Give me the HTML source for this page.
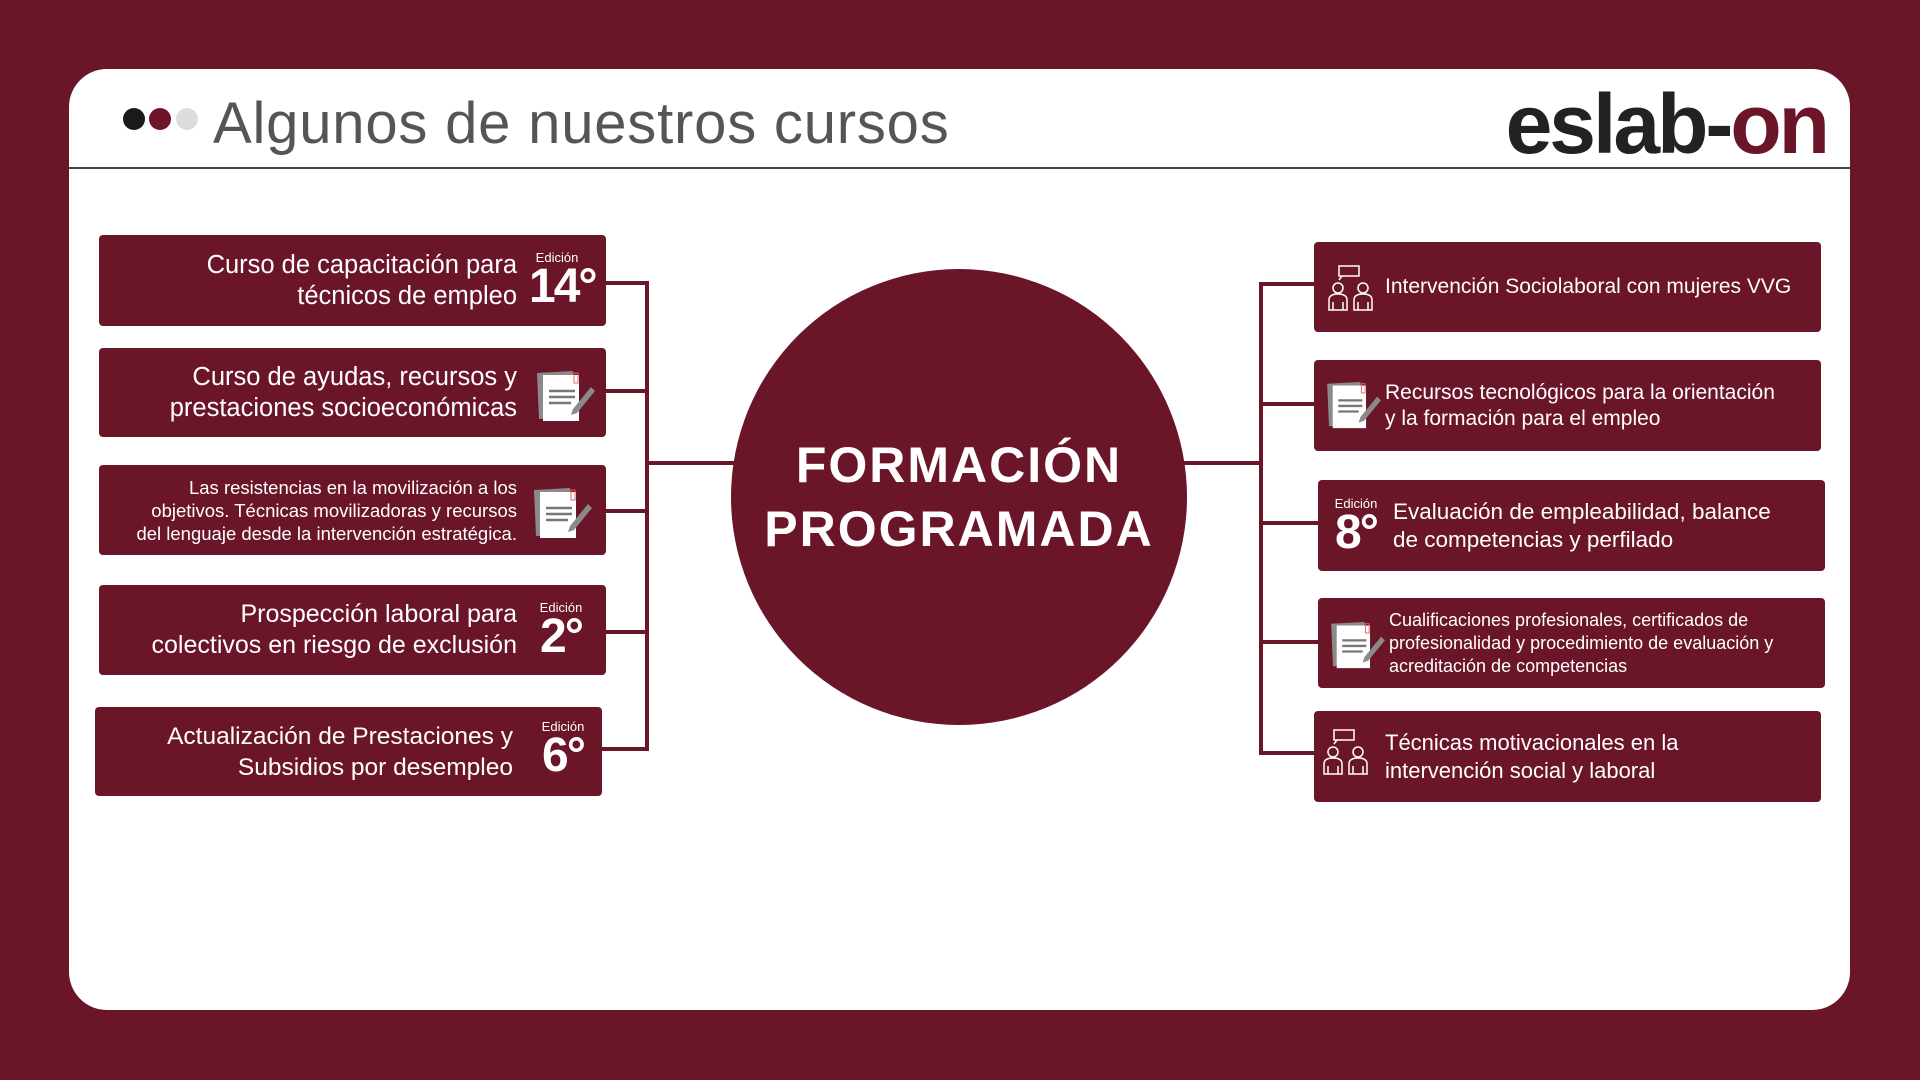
<!DOCTYPE html>
<html><head><meta charset="utf-8"><style>
*{margin:0;padding:0;box-sizing:border-box}
body{width:1920px;height:1080px;background:#6b1529;position:relative;overflow:hidden;font-family:"Liberation Sans",sans-serif}
.card{position:absolute;left:69px;top:69px;width:1781px;height:941px;background:#fff;border-radius:38px}
.hl{position:absolute;left:69px;top:167px;width:1781px;height:2px;background:#444}
.title{position:absolute;left:213px;top:90px;font-size:58px;color:#555;letter-spacing:0.8px}
.dot{position:absolute;width:22px;height:22px;border-radius:50%;top:108px}
.logo{position:absolute;right:93px;top:82px;font-size:84px;line-height:1;font-weight:bold;letter-spacing:-3px;color:#222;white-space:nowrap}
.logo span{color:#6b1529}
.box{position:absolute;background:#6b1529;border-radius:4px;color:#fff;display:flex;align-items:center}
.l{justify-content:flex-end;text-align:right}
.line{position:absolute;background:#6b1529}
.ed{position:absolute;color:#fff;text-align:center}
.ed small{display:block;font-size:13px}
.ed b{display:block;font-size:48px;line-height:44px;letter-spacing:-2px}
.circle{position:absolute;left:731px;top:269px;width:456px;height:456px;border-radius:50%;background:#6b1529;color:#fff;display:flex;align-items:center;justify-content:center;text-align:center;font-weight:bold;font-size:50px;letter-spacing:2px;line-height:64px}
svg{position:absolute}
</style></head><body>
<div class="card"></div>
<div class="hl"></div>
<div class="dot" style="left:123px;background:#1a1a1a"></div>
<div class="dot" style="left:149px;background:#6b1529"></div>
<div class="dot" style="left:176px;background:#ddd"></div>
<div class="title">Algunos de nuestros cursos</div>
<div class="logo">eslab-<span>on</span></div>

<div class="line" style="left:606px;top:281px;width:43px;height:4px"></div>
<div class="line" style="left:606px;top:389px;width:43px;height:4px"></div>
<div class="line" style="left:606px;top:509px;width:43px;height:4px"></div>
<div class="line" style="left:606px;top:630px;width:43px;height:4px"></div>
<div class="line" style="left:602px;top:747px;width:47px;height:4px"></div>
<div class="line" style="left:645px;top:281px;width:4px;height:470px"></div>
<div class="line" style="left:645px;top:461px;width:95px;height:4px"></div>
<div class="line" style="left:1180px;top:461px;width:83px;height:4px"></div>
<div class="line" style="left:1259px;top:282px;width:4px;height:473px"></div>
<div class="line" style="left:1259px;top:282px;width:56px;height:4px"></div>
<div class="line" style="left:1259px;top:402px;width:56px;height:4px"></div>
<div class="line" style="left:1259px;top:521px;width:60px;height:4px"></div>
<div class="line" style="left:1259px;top:640px;width:60px;height:4px"></div>
<div class="line" style="left:1259px;top:751px;width:56px;height:4px"></div>

<div class="circle">FORMACIÓN<br>PROGRAMADA</div>

<div class="box l" style="left:99px;top:235px;width:507px;height:91px;padding-right:89px;font-size:25.5px;line-height:31px">Curso de capacitación para<br>técnicos de empleo</div>
<div class="ed" style="left:529px;top:250px;width:56px"><small>Edición</small><b>14°</b></div>

<div class="box l" style="left:99px;top:348px;width:507px;height:89px;padding-right:89px;font-size:25.5px;line-height:31px">Curso de ayudas, recursos y<br>prestaciones socioeconómicas</div>
<svg style="left:535px;top:369px" width="62" height="54" viewBox="0 0 62 54"><polygon points="2,4 38,2 40,48 4,50" fill="#8a8a8a"/><polygon points="8,6 44,6 44,52 8,52" fill="#fff"/><g stroke="#777" stroke-width="2.5"><line x1="14" y1="22" x2="40" y2="22"/><line x1="14" y1="28" x2="40" y2="28"/><line x1="14" y1="34" x2="36" y2="34"/></g><polygon points="38,40 56,18 60,22 42,44 36,46" fill="#8a8a8a"/><rect x="39" y="4" width="4" height="10" fill="none" stroke="#e06666" stroke-width="1"/></svg>

<div class="box l" style="left:99px;top:465px;width:507px;height:90px;padding-right:89px;font-size:18.5px;line-height:23px">Las resistencias en la movilización a los<br>objetivos. Técnicas movilizadoras y recursos<br>del lenguaje desde la intervención estratégica.</div>
<svg style="left:532px;top:486px" width="62" height="54" viewBox="0 0 62 54"><polygon points="2,4 38,2 40,48 4,50" fill="#8a8a8a"/><polygon points="8,6 44,6 44,52 8,52" fill="#fff"/><g stroke="#777" stroke-width="2.5"><line x1="14" y1="22" x2="40" y2="22"/><line x1="14" y1="28" x2="40" y2="28"/><line x1="14" y1="34" x2="36" y2="34"/></g><polygon points="38,40 56,18 60,22 42,44 36,46" fill="#8a8a8a"/><rect x="39" y="4" width="4" height="10" fill="none" stroke="#e06666" stroke-width="1"/></svg>

<div class="box l" style="left:99px;top:585px;width:507px;height:90px;padding-right:89px;font-size:25px;line-height:31px">Prospección laboral para<br>colectivos en riesgo de exclusión</div>
<div class="ed" style="left:536px;top:600px;width:50px"><small>Edición</small><b>2°</b></div>

<div class="box l" style="left:95px;top:707px;width:507px;height:89px;padding-right:89px;font-size:24.5px;line-height:31px">Actualización de Prestaciones y<br>Subsidios por desempleo</div>
<div class="ed" style="left:538px;top:719px;width:50px"><small>Edición</small><b>6°</b></div>

<div class="box" style="left:1314px;top:242px;width:507px;height:90px;padding-left:71px;font-size:21px">Intervención Sociolaboral con mujeres VVG</div>
<svg style="left:1328px;top:264px" width="48" height="48" viewBox="0 0 48 48" fill="none" stroke="#fff" stroke-width="1.5"><rect x="11" y="2" width="20" height="10"/><path d="M14 12 l-3 4"/><circle cx="10" cy="24" r="5"/><circle cx="35" cy="24" r="5"/><path d="M1 46 v-10 q0-6 9-6 q9 0 9 6 v10 z M26 46 v-10 q0-6 9-6 q9 0 9 6 v10 z M5 46 v-8 M15 46 v-8 M30 46 v-8 M40 46 v-8"/></svg>

<div class="box" style="left:1314px;top:360px;width:507px;height:91px;padding-left:71px;font-size:21px;line-height:26px">Recursos tecnológicos para la orientación<br>y la formación para el empleo</div>
<svg style="left:1325px;top:380px" width="58" height="50" viewBox="0 0 62 54"><polygon points="2,4 38,2 40,48 4,50" fill="#8a8a8a"/><polygon points="8,6 44,6 44,52 8,52" fill="#fff"/><g stroke="#777" stroke-width="2.5"><line x1="14" y1="22" x2="40" y2="22"/><line x1="14" y1="28" x2="40" y2="28"/><line x1="14" y1="34" x2="36" y2="34"/></g><polygon points="38,40 56,18 60,22 42,44 36,46" fill="#8a8a8a"/><rect x="39" y="4" width="4" height="10" fill="none" stroke="#e06666" stroke-width="1"/></svg>

<div class="box" style="left:1318px;top:480px;width:507px;height:91px;padding-left:75px;font-size:22.5px;line-height:28px">Evaluación de empleabilidad, balance<br>de competencias y perfilado</div>
<div class="ed" style="left:1326px;top:496px;width:60px"><small>Edición</small><b>8°</b></div>

<div class="box" style="left:1318px;top:598px;width:507px;height:90px;padding-left:71px;font-size:18px;line-height:23px">Cualificaciones profesionales, certificados de<br>profesionalidad y procedimiento de evaluación y<br>acreditación de competencias</div>
<svg style="left:1329px;top:620px" width="58" height="50" viewBox="0 0 62 54"><polygon points="2,4 38,2 40,48 4,50" fill="#8a8a8a"/><polygon points="8,6 44,6 44,52 8,52" fill="#fff"/><g stroke="#777" stroke-width="2.5"><line x1="14" y1="22" x2="40" y2="22"/><line x1="14" y1="28" x2="40" y2="28"/><line x1="14" y1="34" x2="36" y2="34"/></g><polygon points="38,40 56,18 60,22 42,44 36,46" fill="#8a8a8a"/><rect x="39" y="4" width="4" height="10" fill="none" stroke="#e06666" stroke-width="1"/></svg>

<div class="box" style="left:1314px;top:711px;width:507px;height:91px;padding-left:71px;font-size:22px;line-height:28px">Técnicas motivacionales en la<br>intervención social y laboral</div>
<svg style="left:1323px;top:728px" width="48" height="48" viewBox="0 0 48 48" fill="none" stroke="#fff" stroke-width="1.5"><rect x="11" y="2" width="20" height="10"/><path d="M14 12 l-3 4"/><circle cx="10" cy="24" r="5"/><circle cx="35" cy="24" r="5"/><path d="M1 46 v-10 q0-6 9-6 q9 0 9 6 v10 z M26 46 v-10 q0-6 9-6 q9 0 9 6 v10 z M5 46 v-8 M15 46 v-8 M30 46 v-8 M40 46 v-8"/></svg>
</body></html>
